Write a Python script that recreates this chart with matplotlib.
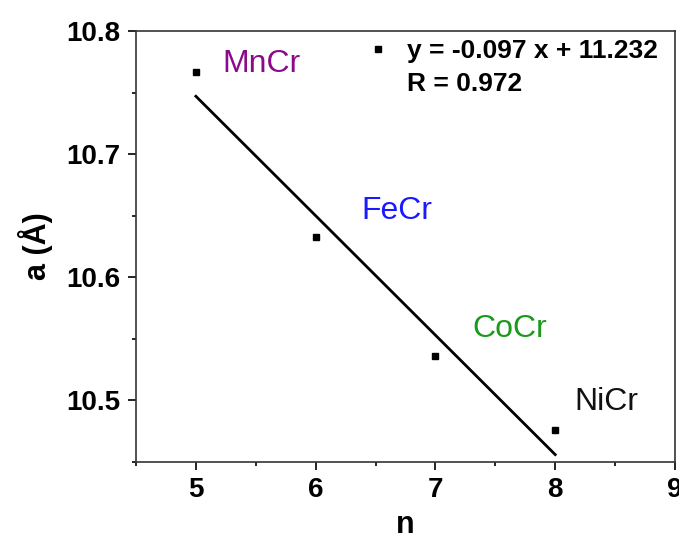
import matplotlib

matplotlib.use("Agg")
import matplotlib.pyplot as plt
from matplotlib.lines import Line2D
from matplotlib.ticker import MultipleLocator

plt.rcParams["font.family"] = ["Liberation Sans", "DejaVu Sans"]

# --- data ---
n_values = [5, 6, 7, 8]
lattice_a = [10.767, 10.633, 10.536, 10.476]
alloys = ["MnCr", "FeCr", "CoCr", "NiCr"]
alloy_colors = ["#8b0a8b", "#1a1aff", "#1a9a1a", "#111111"]
label_pos = [(5.22, 10.773), (6.38, 10.654), (7.31, 10.558), (8.16, 10.499)]

slope, intercept, r_value = -0.097, 11.232, 0.972
fit_x = [5, 8]

fig = plt.figure(figsize=(6.79, 5.39), dpi=100)
ax = fig.add_axes([136 / 679, 1 - 462 / 539, 539 / 679, 431 / 539])

pts, = ax.plot(n_values, lattice_a, "s", color="black", ms=5, ls="none")
ax.plot(fit_x, [slope * x + intercept for x in fit_x], color="black", lw=2)

for name, col, (tx, ty) in zip(alloys, alloy_colors, label_pos):
    ax.text(tx, ty, name, color=col, fontsize=23, ha="left", va="center")

blank = Line2D([], [], ls="none")
ax.legend(
    [pts, blank],
    [f"y = {slope} x + {intercept}", f"R = {r_value}"],
    loc="upper left",
    bbox_to_anchor=(0.425, 0.982),
    frameon=False,
    borderpad=0,
    borderaxespad=0,
    handlelength=1.0,
    handletextpad=0.6,
    labelspacing=0.35,
    prop={"weight": "bold", "size": 19},
)

ax.set_xlim(4.5, 9)
ax.set_ylim(10.45, 10.8)
ax.xaxis.set_major_locator(MultipleLocator(1))
ax.xaxis.set_minor_locator(MultipleLocator(0.5))
ax.yaxis.set_major_locator(MultipleLocator(0.1))
ax.yaxis.set_minor_locator(MultipleLocator(0.05))
ax.tick_params(which="major", direction="out", length=6, width=1.2, pad=5,
               labelsize=20)
ax.tick_params(which="minor", direction="out", length=3, width=1.2)
for lbl in ax.get_xticklabels() + ax.get_yticklabels():
    lbl.set_fontweight("bold")
for sp in ax.spines.values():
    sp.set_linewidth(1.2)
    sp.set_color("#333333")

ax.set_xlabel("n", fontsize=22, fontweight="bold", labelpad=5)
ax.set_ylabel("a (Å)", fontsize=22, fontweight="bold", labelpad=10)

fig.savefig("out.png", dpi=100)
